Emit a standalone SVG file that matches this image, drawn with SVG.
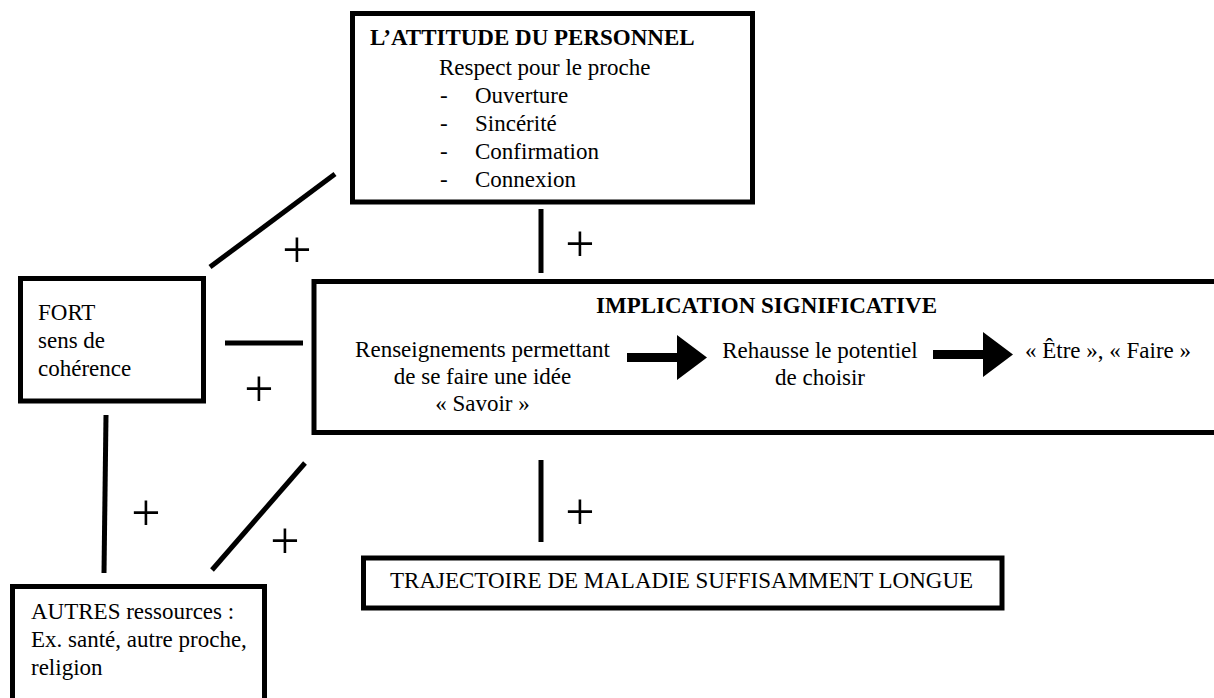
<svg xmlns="http://www.w3.org/2000/svg" width="1214" height="698" viewBox="0 0 1214 698">
<style>
.box{fill:#fff;stroke:#000;stroke-width:5}
.t{font-family:"Liberation Serif","Times New Roman",serif;font-size:23px;fill:#000}
.b{font-weight:bold}
.c{text-anchor:middle}
.ln{stroke:#000;stroke-width:5;fill:none}
.pl{font-family:"Liberation Serif","Times New Roman",serif;font-size:52px;fill:#000;text-anchor:middle}
</style>
<rect width="1214" height="698" fill="#fff"/>
<g id="connectors">
<line class="ln" x1="335" y1="174" x2="210" y2="267"/>
<line class="ln" x1="541" y1="209" x2="541" y2="273"/>
<line class="ln" x1="225" y1="343" x2="303" y2="343"/>
<line class="ln" x1="106" y1="415" x2="104" y2="573"/>
<line class="ln" x1="305" y1="463" x2="212" y2="570"/>
<line class="ln" x1="541" y1="460" x2="541" y2="542"/>
<text class="pl" x="297" y="267">+</text>
<text class="pl" x="580" y="261">+</text>
<text class="pl" x="259" y="406">+</text>
<text class="pl" x="146" y="530">+</text>
<text class="pl" x="285" y="558">+</text>
<text class="pl" x="580" y="529">+</text>
</g>
<g id="attitude">
<rect class="box" x="352.5" y="13.5" width="400" height="188.5"/>
<text class="t b" x="370" y="45">L’ATTITUDE DU PERSONNEL</text>
<text class="t" x="439" y="75">Respect pour le proche</text>
<text class="t" x="440" y="103">-</text><text class="t" x="475" y="103">Ouverture</text>
<text class="t" x="440" y="131">-</text><text class="t" x="475" y="131">Sincérité</text>
<text class="t" x="440" y="159">-</text><text class="t" x="475" y="159">Confirmation</text>
<text class="t" x="440" y="187">-</text><text class="t" x="475" y="187">Connexion</text>
</g>
<g id="fort">
<rect class="box" x="20.5" y="278.5" width="183" height="122.5"/>
<text class="t" x="38" y="320">FORT</text>
<text class="t" x="38" y="348">sens de</text>
<text class="t" x="38" y="376">cohérence</text>
</g>
<g id="implication">
<rect class="box" x="314" y="281.5" width="904" height="151"/>
<text class="t b c" x="766.5" y="313">IMPLICATION SIGNIFICATIVE</text>
<text class="t c" x="482.5" y="357">Renseignements permettant</text>
<text class="t c" x="482.5" y="384">de se faire une idée</text>
<text class="t c" x="482.5" y="411">« Savoir »</text>
<polygon points="627,353 677,353 677,335 707,357.5 677,380 677,362 627,362" fill="#000"/>
<text class="t c" x="820" y="358">Rehausse le potentiel</text>
<text class="t c" x="820" y="385">de choisir</text>
<polygon points="933,350 983,350 983,332 1013,354.5 983,377 983,359 933,359" fill="#000"/>
<text class="t" x="1025" y="358">« Être », « Faire »</text>
</g>
<g id="trajectoire">
<rect class="box" x="363.5" y="558" width="638.5" height="50"/>
<text class="t" x="390" y="588">TRAJECTOIRE DE MALADIE SUFFISAMMENT LONGUE</text>
</g>
<g id="autres">
<rect class="box" x="12.5" y="586.5" width="252" height="130"/>
<text class="t" x="31" y="619">AUTRES ressources :</text>
<text class="t" x="31" y="647">Ex. santé, autre proche,</text>
<text class="t" x="31" y="675">religion</text>
</g>
</svg>
